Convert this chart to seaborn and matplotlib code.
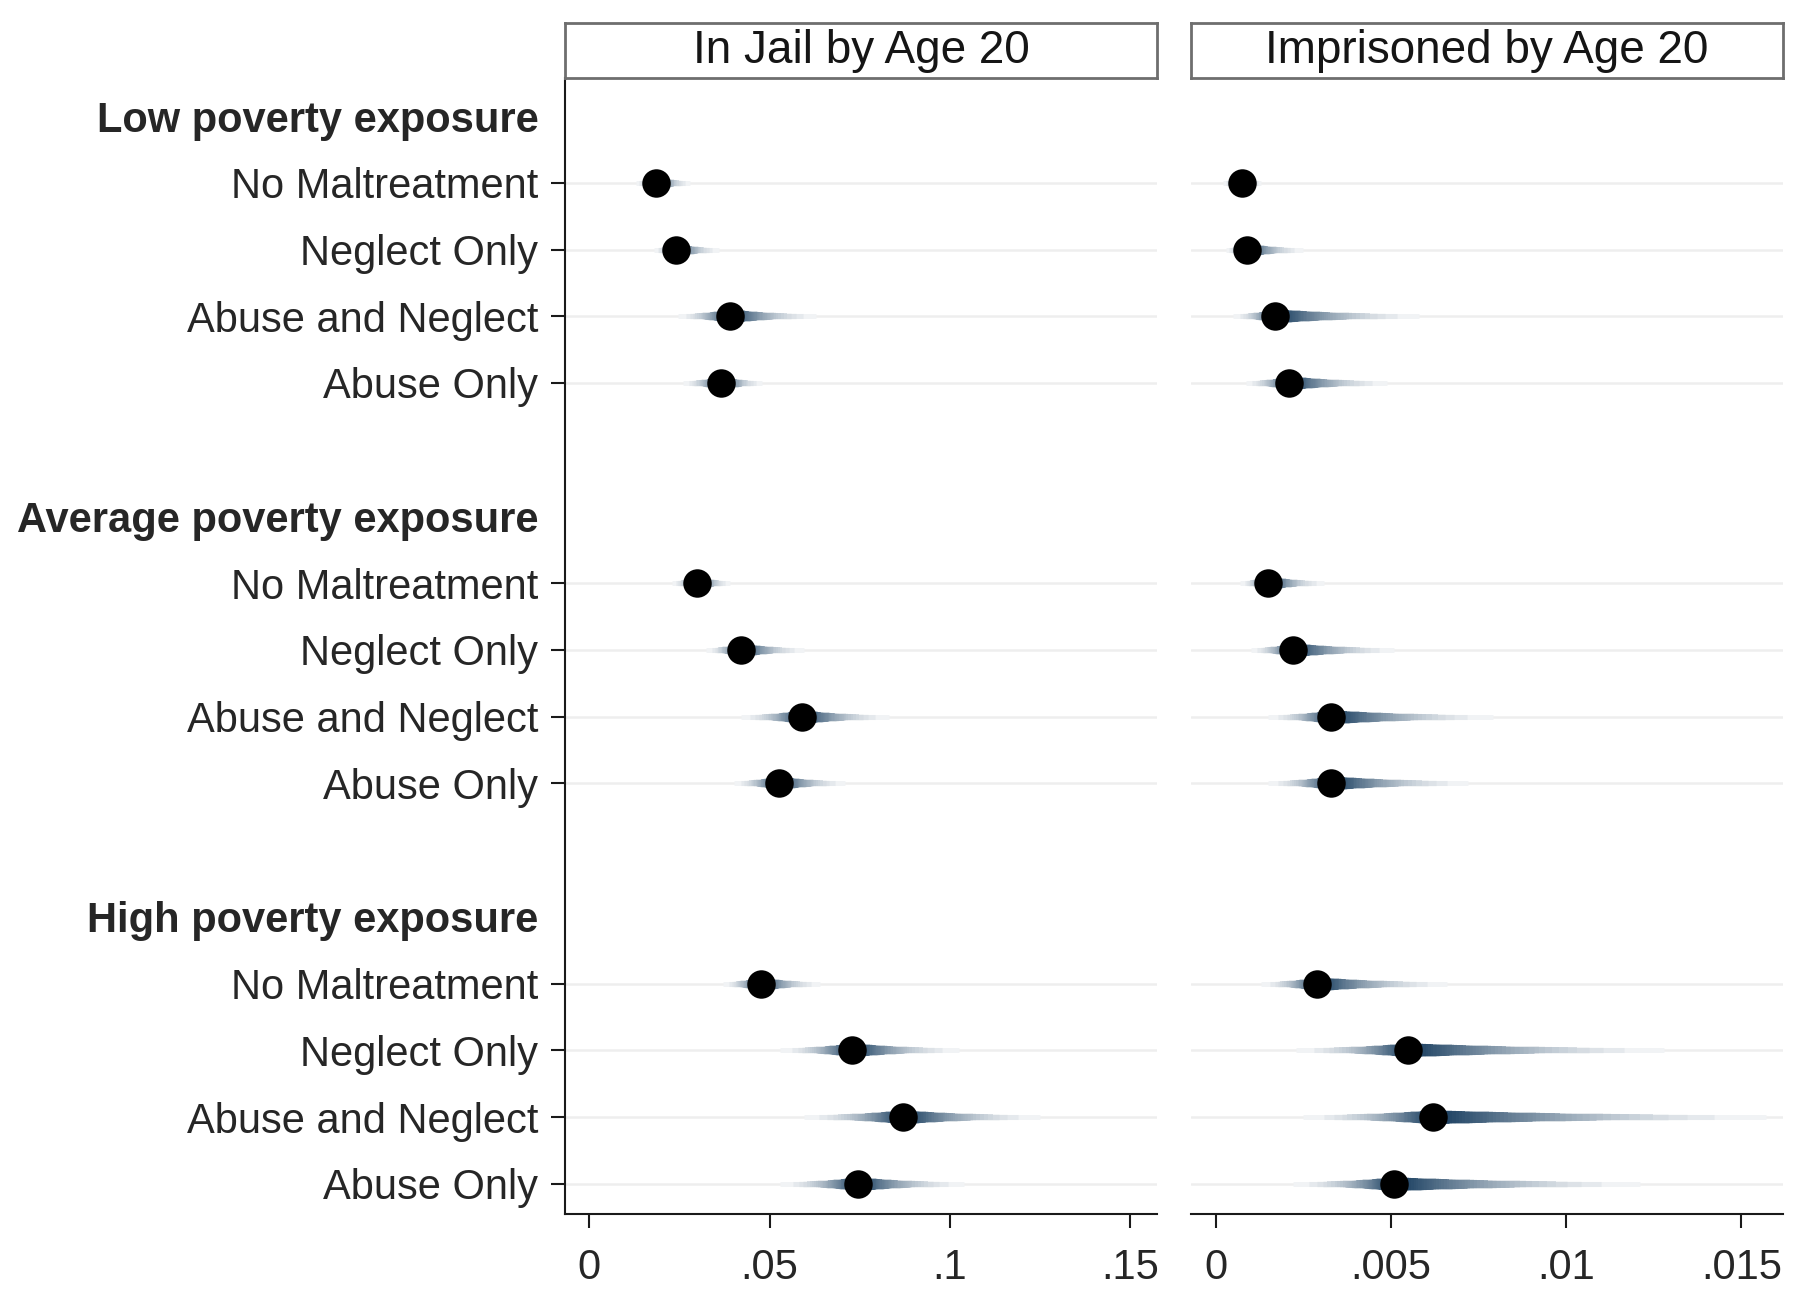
import numpy as np
import pandas as pd
import matplotlib
matplotlib.use("Agg")
import matplotlib.pyplot as plt
import seaborn as sns
from matplotlib.colors import to_rgb
from statistics import NormalDist

# Predicted probabilities with 95% CI, by poverty exposure group
groups = ["Low poverty exposure", "Average poverty exposure", "High poverty exposure"]
types = ["No Maltreatment", "Neglect Only", "Abuse and Neglect", "Abuse Only"]

jail_est = [0.0185, 0.024, 0.039, 0.0366,
            0.030, 0.042, 0.059, 0.0525,
            0.0475, 0.073, 0.087, 0.0745]
jail_lo = [0.013, 0.018, 0.0245, 0.026,
           0.023, 0.0325, 0.042, 0.040,
           0.037, 0.053, 0.0595, 0.053]
jail_hi = [0.028, 0.036, 0.063, 0.048,
           0.039, 0.0595, 0.083, 0.071,
           0.064, 0.1025, 0.125, 0.104]

prison_est = [0.00075, 0.00088, 0.0017, 0.0021,
              0.0015, 0.0022, 0.0033, 0.0033,
              0.0029, 0.0055, 0.0062, 0.0051]
prison_lo = [0.0002, 0.0003, 0.0005, 0.00085,
             0.0007, 0.001, 0.0015, 0.0015,
             0.0013, 0.0023, 0.0025, 0.0022]
prison_hi = [0.0013, 0.0025, 0.0058, 0.0049,
             0.0031, 0.0051, 0.0079, 0.0072,
             0.0066, 0.0128, 0.0157, 0.0121]

panel_titles = ["In Jail by Age 20", "Imprisoned by Age 20"]
jail_ticks = [0, 0.05, 0.1, 0.15]
jail_ticklabels = ["0", ".05", ".1", ".15"]
prison_ticks = [0, 0.005, 0.01, 0.015]
prison_ticklabels = ["0", ".005", ".01", ".015"]

# row positions: header, 4 rows, blank, ...
ypos, ylabels, is_header = [], [], []
row_y = []
slot = 0
for g in groups:
    ypos.append(slot); ylabels.append(g); is_header.append(True)
    slot += 1
    for t in types:
        ypos.append(slot); ylabels.append(t); is_header.append(False)
        row_y.append(slot)
        slot += 1
    slot += 1

sns.set_theme(style="white")
plt.rcParams['font.family'] = ['Liberation Sans', 'DejaVu Sans']
plt.rcParams['text.color'] = '#151515'

fig = plt.figure(figsize=(18, 12.96), dpi=100)
navy = np.array(to_rgb("#143a5c"))
white = np.ones(3)
z99 = NormalDist().inv_cdf(0.995)
levels = np.linspace(0.99, 0.02, 50)

panels = [
    (0.3138, jail_est, jail_lo, jail_hi, jail_ticks, jail_ticklabels, (-0.0068, 0.1575)),
    (0.6614, prison_est, prison_lo, prison_hi, prison_ticks, prison_ticklabels, (-0.00072, 0.01618)),
]
pw = 0.329
bottom, top = 0.0629, 0.9398

for i, (left, est, lo, hi, ticks, tlabs, xlim) in enumerate(panels):
    ax = fig.add_axes([left, bottom, pw, top - bottom])
    df = pd.DataFrame({"est": est, "lo": lo, "hi": hi, "y": row_y})

    for yy in row_y:
        ax.axhline(yy, color="#eeeeee", lw=1.8, zorder=0)

    # smoothed confidence intervals
    n = len(levels)
    for k, p in enumerate(levels):
        frac = NormalDist().inv_cdf(0.5 + p / 2) / z99
        u = k / (n - 1)
        inten = 0.06 + 0.94 * u ** 0.75
        col = white + (navy - white) * inten
        lw = 3.5 + 6.0 * u
        ax.hlines(df["y"], df["est"] - (df["est"] - df["lo"]) * frac,
                  df["est"] + (df["hi"] - df["est"]) * frac,
                  color=col, lw=lw, zorder=2)

    sns.scatterplot(data=df, x="est", y="y", ax=ax, color="black", s=420,
                    edgecolor="black", linewidth=0, zorder=5, legend=False)

    ax.set_xlim(*xlim)
    ax.set_ylim(16.46, -0.57)
    ax.set_xticks(ticks)
    ax.set_xticklabels(tlabs, fontsize=30)
    ax.set_xlabel("")
    ax.set_ylabel("")
    ax.tick_params(axis="x", direction="out", length=10, width=1.5, color="#1a1a1a",
                   pad=14, bottom=True)
    for s in ["top", "right"]:
        ax.spines[s].set_visible(False)
    ax.spines["bottom"].set_color("#1a1a1a")
    ax.spines["bottom"].set_linewidth(1.5)

    if i == 0:
        ax.set_yticks(ypos)
        ax.set_yticklabels(ylabels, fontsize=30)
        ax.tick_params(axis="y", direction="out", length=10, width=1.5, color="#1a1a1a",
                       pad=9, left=True)
        for tk, h in zip(ax.yaxis.get_major_ticks(), is_header):
            if h:
                tk.tick1line.set_visible(False)
                tk.label1.set_fontweight("bold")
        ax.spines["left"].set_color("#1a1a1a")
        ax.spines["left"].set_linewidth(1.5)
    else:
        ax.set_yticks([])
        ax.spines["left"].set_visible(False)

    # title box
    tax = fig.add_axes([left, top, pw, 0.982 - top])
    tax.set_xticks([]); tax.set_yticks([])
    for s in tax.spines.values():
        s.set_color("#6e6e6e"); s.set_linewidth(2); s.set_visible(True)
    tax.text(0.5, 0.5, panel_titles[i], ha="center", va="center", fontsize=33,
             transform=tax.transAxes)

fig.savefig("out.png", dpi=100, facecolor="white")
